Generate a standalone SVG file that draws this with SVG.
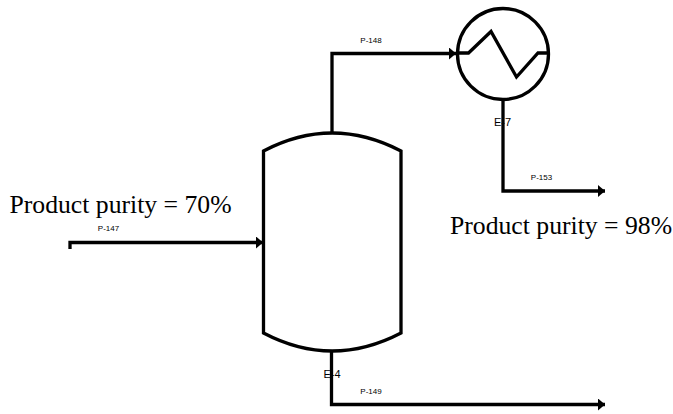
<svg xmlns="http://www.w3.org/2000/svg" width="673" height="414" viewBox="0 0 673 414">
<style>
.eq{fill:none;stroke:#000;stroke-width:3.300;stroke-linejoin:miter}
.pipe{fill:none;stroke:#000;stroke-width:3.300;stroke-linejoin:miter;marker-end:url(#arrow)}
.tag{font-family:"Liberation Sans",Arial,sans-serif;font-size:8px;fill:#000;text-anchor:middle}
.name{font-family:"Liberation Sans",Arial,sans-serif;font-size:11px;fill:#000;text-anchor:middle}
.note{font-family:"Liberation Serif","Times New Roman",serif;font-size:25.700px;fill:#000}
</style>
<defs>
<marker id="arrow" markerUnits="userSpaceOnUse" markerWidth="8" markerHeight="12" refX="7" refY="6" orient="auto">
<path d="M0 0L7 6L0 12Z" fill="#000"/>
</marker>
</defs>
<rect width="673" height="414" fill="#fff"/>
<g id="connectors">
<path class="pipe" d="M332 133V53.500H456"/>
<path class="pipe" d="M503 99V191H605"/>
<path class="pipe" d="M70 249V242.500H263"/>
<path class="pipe" d="M331.500 350V404.500H605"/>
</g>
<g id="E-4">
<path class="eq" d="M263.500 333V151Q332 115 401 151V333Q332 369 263.500 333Z"/>
<text class="name" x="332" y="378">E-4</text>
</g>
<g id="E-7">
<circle class="eq" cx="503" cy="54" r="45.500"/>
<path class="eq" d="M457 53H468.500L491 31.500L516.500 77L538 53H549"/>
<text class="name" x="502.500" y="125.500">E-7</text>
</g>
<g id="labels">
<text class="tag" x="371" y="43">P-148</text>
<text class="tag" x="541.500" y="180">P-153</text>
<text class="tag" x="108.500" y="231">P-147</text>
<text class="tag" x="371" y="393.500">P-149</text>
<text class="note" x="9.500" y="213">Product purity = 70%</text>
<text class="note" x="450" y="234">Product purity = 98%</text>
</g>
</svg>
